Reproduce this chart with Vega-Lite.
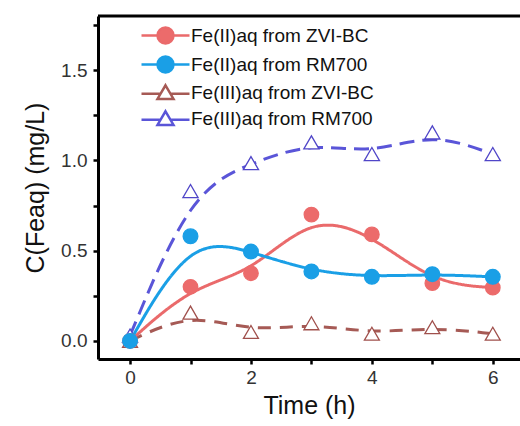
{
  "$schema": "https://vega.github.io/schema/vega-lite/v6.json",
  "width": 422,
  "height": 343,
  "autosize": {"type": "none"},
  "padding": {"left": 98, "top": 16, "right": 0, "bottom": 67},
  "background": "white",
  "config": {
    "view": {"stroke": null},
    "font": "Liberation Sans",
    "axis": {
      "grid": false,
      "domainColor": "black",
      "domainWidth": 3,
      "tickColor": "black",
      "tickWidth": 2.5,
      "tickSize": 5,
      "labelFont": "Liberation Sans",
      "labelFontSize": 19,
      "labelColor": "#333333",
      "titleFont": "Liberation Sans",
      "titleFontSize": 25,
      "titleFontWeight": "normal",
      "titleColor": "#111111"
    },
    "legend": {
      "orient": "none",
      "legendX": 58,
      "legendY": 10,
      "padding": 0,
      "labelFont": "Liberation Sans",
      "labelFontSize": 19,
      "labelColor": "#111111",
      "labelOffset": 16,
      "labelLimit": 300,
      "rowPadding": 2,
      "symbolSize": 256,
      "symbolStrokeWidth": 2.5,
      "symbolOpacity": 1
    }
  },
  "data": {
    "values": [
      {"t": 0, "s": "Fe(III)aq from ZVI-BC", "c": 0.0},
      {"t": 1, "s": "Fe(III)aq from ZVI-BC", "c": 0.157},
      {"t": 2, "s": "Fe(III)aq from ZVI-BC", "c": 0.05},
      {"t": 3, "s": "Fe(III)aq from ZVI-BC", "c": 0.098},
      {"t": 4, "s": "Fe(III)aq from ZVI-BC", "c": 0.04},
      {"t": 5, "s": "Fe(III)aq from ZVI-BC", "c": 0.076},
      {"t": 6, "s": "Fe(III)aq from ZVI-BC", "c": 0.04},
      {"t": 0, "s": "Fe(III)aq from RM700", "c": 0.03},
      {"t": 1, "s": "Fe(III)aq from RM700", "c": 0.83},
      {"t": 2, "s": "Fe(III)aq from RM700", "c": 0.985},
      {"t": 3, "s": "Fe(III)aq from RM700", "c": 1.1},
      {"t": 4, "s": "Fe(III)aq from RM700", "c": 1.035},
      {"t": 5, "s": "Fe(III)aq from RM700", "c": 1.155},
      {"t": 6, "s": "Fe(III)aq from RM700", "c": 1.035},
      {"t": 0, "s": "Fe(II)aq from ZVI-BC", "c": 0.0},
      {"t": 1, "s": "Fe(II)aq from ZVI-BC", "c": 0.3},
      {"t": 2, "s": "Fe(II)aq from ZVI-BC", "c": 0.375},
      {"t": 3, "s": "Fe(II)aq from ZVI-BC", "c": 0.7},
      {"t": 4, "s": "Fe(II)aq from ZVI-BC", "c": 0.59},
      {"t": 5, "s": "Fe(II)aq from ZVI-BC", "c": 0.32},
      {"t": 6, "s": "Fe(II)aq from ZVI-BC", "c": 0.295},
      {"t": 0, "s": "Fe(II)aq from RM700", "c": 0.0},
      {"t": 1, "s": "Fe(II)aq from RM700", "c": 0.58},
      {"t": 2, "s": "Fe(II)aq from RM700", "c": 0.495},
      {"t": 3, "s": "Fe(II)aq from RM700", "c": 0.385},
      {"t": 4, "s": "Fe(II)aq from RM700", "c": 0.355},
      {"t": 5, "s": "Fe(II)aq from RM700", "c": 0.37},
      {"t": 6, "s": "Fe(II)aq from RM700", "c": 0.355}
    ]
  },
  "layer": [
    {
      "mark": {"type": "line", "interpolate": "basis", "strokeWidth": 3},
      "encoding": {
        "x": {
          "field": "t",
          "type": "quantitative",
          "title": "Time (h)",
          "scale": {"domain": [-0.53, 6.45], "nice": false, "zero": false},
          "axis": {
            "values": [0, 1, 2, 3, 4, 5, 6],
            "labelExpr": "datum.value % 2 === 0 ? format(datum.value, 'd') : ''",
            "labelPadding": 4,
            "titlePadding": 6
          }
        },
        "y": {
          "field": "c",
          "type": "quantitative",
          "title": "C(Feaq) (mg/L)",
          "scale": {"domain": [-0.1, 1.8], "nice": false, "zero": false},
          "axis": {
            "values": [0, 0.25, 0.5, 0.75, 1, 1.25, 1.5, 1.75],
            "labelExpr": "datum.value % 0.5 === 0 ? format(datum.value, '.1f') : ''",
            "labelPadding": 6,
            "titlePadding": 12
          }
        },
        "stroke": {
          "field": "s",
          "type": "nominal",
          "legend": null,
          "scale": {
            "domain": ["Fe(II)aq from ZVI-BC", "Fe(II)aq from RM700", "Fe(III)aq from ZVI-BC", "Fe(III)aq from RM700"],
            "range": ["#EA6A6B", "#1A9FE6", "#A65A55", "#5A55D8"]
          }
        },
        "strokeDash": {
          "field": "s",
          "type": "nominal",
          "legend": null,
          "scale": {
            "domain": ["Fe(II)aq from ZVI-BC", "Fe(II)aq from RM700", "Fe(III)aq from ZVI-BC", "Fe(III)aq from RM700"],
            "range": [[1, 0], [1, 0], [13, 9], [15, 8]]
          }
        }
      }
    },
    {
      "data": {"values": [{"top": 1.8}]},
      "mark": {"type": "rule", "color": "black", "strokeWidth": 3},
      "encoding": {"y": {"field": "top", "type": "quantitative"}}
    },
    {
      "mark": {"type": "point", "filled": true, "strokeWidth": 1.3, "opacity": 1},
      "encoding": {
        "x": {"field": "t", "type": "quantitative"},
        "y": {"field": "c", "type": "quantitative"},
        "shape": {
          "field": "s",
          "type": "nominal",
          "legend": null,
          "scale": {
            "domain": ["Fe(II)aq from ZVI-BC", "Fe(II)aq from RM700", "Fe(III)aq from ZVI-BC", "Fe(III)aq from RM700"],
            "range": ["circle", "circle", "triangle-up", "triangle-up"]
          }
        },
        "size": {
          "field": "s",
          "type": "nominal",
          "legend": null,
          "scale": {
            "domain": ["Fe(II)aq from ZVI-BC", "Fe(II)aq from RM700", "Fe(III)aq from ZVI-BC", "Fe(III)aq from RM700"],
            "range": [210, 230, 170, 170]
          }
        },
        "fill": {
          "field": "s",
          "type": "nominal",
          "legend": null,
          "scale": {
            "domain": ["Fe(II)aq from ZVI-BC", "Fe(II)aq from RM700", "Fe(III)aq from ZVI-BC", "Fe(III)aq from RM700"],
            "range": ["#EC6B6B", "#1A9FE6", "white", "white"]
          }
        },
        "stroke": {
          "field": "s",
          "type": "nominal",
          "legend": null,
          "scale": {
            "domain": ["Fe(II)aq from ZVI-BC", "Fe(II)aq from RM700", "Fe(III)aq from ZVI-BC", "Fe(III)aq from RM700"],
            "range": ["#EC6B6B", "#1A9FE6", "#A0504C", "#5046C8"]
          }
        }
      }
    },
    {
      "transform": [{"filter": "false"}],
      "mark": {"type": "point", "filled": true, "size": 256, "strokeWidth": 2.5, "opacity": 1},
      "encoding": {
        "shape": {
          "field": "s",
          "type": "nominal",
          "legend": {"title": null},
          "scale": {
            "domain": ["Fe(II)aq from ZVI-BC", "Fe(II)aq from RM700", "Fe(III)aq from ZVI-BC", "Fe(III)aq from RM700"],
            "range": [
              "M-3,0H-1M1,0H3M-1,0A1,1 0 1,0 1,0A1,1 0 1,0 -1,0Z",
              "M-3,0H-1M1,0H3M-1,0A1,1 0 1,0 1,0A1,1 0 1,0 -1,0Z",
              "M-3,0.15H-0.6M0.6,0.15H3M0,-0.9L1,0.8L-1,0.8Z",
              "M-3,0.15H-0.6M0.6,0.15H3M0,-0.9L1,0.8L-1,0.8Z"
            ]
          }
        },
        "fill": {
          "field": "s",
          "type": "nominal",
          "legend": {"title": null},
          "scale": {
            "domain": ["Fe(II)aq from ZVI-BC", "Fe(II)aq from RM700", "Fe(III)aq from ZVI-BC", "Fe(III)aq from RM700"],
            "range": ["#EC6B6B", "#1A9FE6", "white", "white"]
          }
        },
        "stroke": {
          "field": "s",
          "type": "nominal",
          "legend": {"title": null},
          "scale": {
            "domain": ["Fe(II)aq from ZVI-BC", "Fe(II)aq from RM700", "Fe(III)aq from ZVI-BC", "Fe(III)aq from RM700"],
            "range": ["#EA6A6B", "#1A9FE6", "#A65A55", "#5A55D8"]
          }
        }
      }
    }
  ],
  "resolve": {
    "scale": {"shape": "independent", "fill": "independent", "stroke": "independent", "strokeDash": "independent", "size": "independent"},
    "legend": {"shape": "independent", "fill": "independent", "stroke": "independent", "strokeDash": "independent", "size": "independent"}
  }
}
